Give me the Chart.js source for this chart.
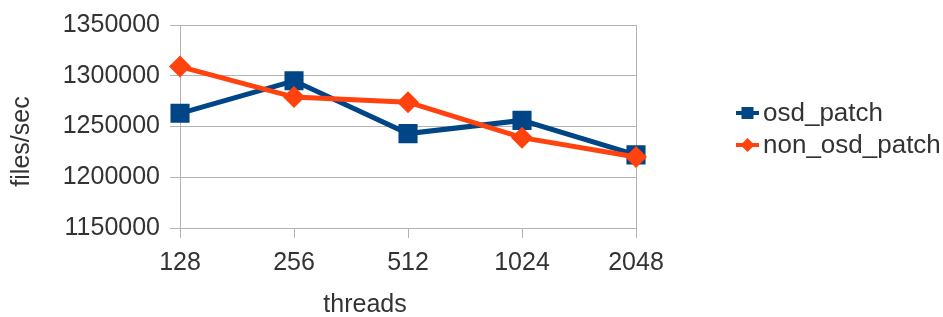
<!DOCTYPE html>
<html><head><meta charset="utf-8">
<script src="https://cdn.jsdelivr.net/npm/chart.js@4/dist/chart.umd.min.js"></script>
<style>html,body{margin:0;padding:0;background:#fff}#wrap{width:943px;height:317px;position:relative}</style>
</head><body><div id="wrap"><canvas id="c" width="943" height="317"></canvas></div>
<script>
const categories = ['128', '256', '512', '1024', '2048'];
const osdPatch = [1263000, 1295000, 1243000, 1256000, 1222000];
const nonOsdPatch = [1309000, 1279000, 1274000, 1239000, 1220000];
const yMin = 1150000, yMax = 1350000, yStep = 50000;
const seriesNames = ['osd_patch', 'non_osd_patch'];
const xTitle = 'threads', yTitle = 'files/sec';

const BLUE = '#004586', ORANGE = '#ff420e', GRID = '#b3b3b3', TEXT = '#333333';
const FONT = '"Liberation Sans", Arial, sans-serif';

const extras = {
  id: 'extras',
  afterDraw(chart) {
    const ctx = chart.ctx, a = chart.chartArea;
    ctx.save();
    ctx.fillStyle = TEXT;
    ctx.font = '25px ' + FONT;
    ctx.textAlign = 'center';
    ctx.textBaseline = 'middle';
    ctx.fillText(xTitle, a.left + a.width / 2 - 43, 305);
    ctx.save();
    ctx.translate(22, 141.5);
    ctx.rotate(-Math.PI / 2);
    ctx.fillText(yTitle, 0, 0);
    ctx.restore();
    // legend
    chart.data.datasets.forEach((ds, i) => {
      const y = 113 + i * 32;
      ctx.strokeStyle = ds.borderColor;
      ctx.lineWidth = 4;
      ctx.beginPath(); ctx.moveTo(736, y); ctx.lineTo(759, y); ctx.stroke();
      ctx.fillStyle = ds.borderColor;
      const cx = 747.5;
      if (ds.pointStyle === 'rect') {
        ctx.fillRect(cx - 6, y - 6, 12, 12);
      } else {
        ctx.beginPath();
        ctx.moveTo(cx, y - 7); ctx.lineTo(cx + 7, y); ctx.lineTo(cx, y + 7); ctx.lineTo(cx - 7, y);
        ctx.closePath(); ctx.fill();
      }
      ctx.fillStyle = TEXT;
      ctx.font = '26px ' + FONT;
      ctx.textAlign = 'left';
      ctx.fillText(ds.label, 763, y + 1);
    });
    ctx.restore();
  }
};

new Chart(document.getElementById('c'), {
  type: 'line',
  data: {
    labels: categories,
    datasets: [
      { label: seriesNames[0], data: osdPatch, borderColor: BLUE, backgroundColor: BLUE,
        borderWidth: 5, pointStyle: 'rect', pointRadius: 13.5, pointBorderWidth: 0, order: 2 },
      { label: seriesNames[1], data: nonOsdPatch, borderColor: ORANGE, backgroundColor: ORANGE,
        borderWidth: 5, pointStyle: 'rectRot', pointRadius: 11, pointBorderWidth: 0, order: 1 }
    ]
  },
  options: {
    responsive: false, animation: false, devicePixelRatio: 1,
    layout: { autoPadding: false, padding: { left: 52.7, top: 22, right: 307, bottom: 29 } },
    plugins: { legend: { display: false }, tooltip: { enabled: false } },
    scales: {
      x: {
        offset: false,
        grid: { color: c => (c.index === 0 || c.index === categories.length - 1) ? GRID : 'rgba(0,0,0,0)',
                tickColor: GRID, tickLength: 10, lineWidth: 1 },
        border: { color: GRID },
        ticks: { color: TEXT, font: { family: FONT, size: 25 }, padding: 10, maxRotation: 0 }
      },
      y: {
        min: yMin, max: yMax,
        grid: { color: GRID, tickColor: GRID, tickLength: 10 },
        border: { color: GRID },
        ticks: { stepSize: yStep, color: TEXT, font: { family: FONT, size: 25 }, padding: 10,
                 callback: v => String(v) }
      }
    }
  },
  plugins: [extras]
});
</script></body></html>
